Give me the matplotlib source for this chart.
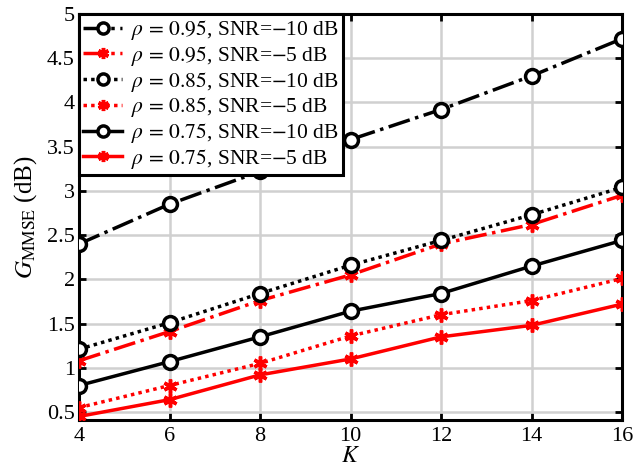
import matplotlib
matplotlib.use('Agg')
import matplotlib.pyplot as plt

plt.rcParams['font.family'] = ['Liberation Serif', 'DejaVu Serif']
plt.rcParams['mathtext.fontset'] = 'stix'

K = [4, 6, 8, 10, 12, 14, 16]

# gain values (dB)
g_095_m10 = [2.40, 2.85, 3.22, 3.58, 3.92, 4.30, 4.72]
g_095_m5 = [1.08, 1.41, 1.76, 2.05, 2.40, 2.62, 2.95]
g_085_m10 = [1.21, 1.51, 1.84, 2.16, 2.44, 2.73, 3.04]
g_085_m5 = [0.55, 0.80, 1.05, 1.36, 1.60, 1.76, 2.01]
g_075_m10 = [0.80, 1.07, 1.35, 1.64, 1.84, 2.15, 2.44]
g_075_m5 = [0.45, 0.64, 0.92, 1.10, 1.35, 1.48, 1.72]

labels = [
    r'$\rho\,=\,0.95$, SNR=$-$10 dB',
    r'$\rho\,=\,0.95$, SNR=$-$5 dB',
    r'$\rho\,=\,0.85$, SNR=$-$10 dB',
    r'$\rho\,=\,0.85$, SNR=$-$5 dB',
    r'$\rho\,=\,0.75$, SNR=$-$10 dB',
    r'$\rho\,=\,0.75$, SNR=$-$5 dB',
]

series = [g_095_m10, g_095_m5, g_085_m10, g_085_m5, g_075_m10, g_075_m5]
colors = ['k', 'r', 'k', 'r', 'k', 'r']
dotted = (0, (1.0, 1.2))
styles = ['-.', '-.', dotted, dotted, '-', '-']
asterisk = (6, 2, 0)
markers = ['o', asterisk, 'o', asterisk, 'o', asterisk]

fig = plt.figure(figsize=(6.33, 4.7), dpi=100)
ax = fig.add_axes([79 / 633, 50 / 470, 543 / 633, 406 / 470])

for y, c, ls, m, lab in zip(series, colors, styles, markers, labels):
    if m == 'o':
        ax.plot(K, y, color=c, ls=ls, lw=2.5, marker='o', ms=10,
                mfc='white', mec=c, mew=2.5, label=lab, zorder=3)
    else:
        ax.plot(K, y, color=c, ls=ls, lw=2.5, marker=m, ms=10,
                mec=c, mew=2.5, label=lab, zorder=3)

ax.set_xlim(4, 16)
ax.set_ylim(0.41, 5)
ax.set_xticks(K)
ax.set_yticks([0.5, 1, 1.5, 2, 2.5, 3, 3.5, 4, 4.5, 5])
ax.set_yticklabels(['0.5', '1', '1.5', '2', '2.5', '3', '3.5', '4', '4.5', '5'])
ax.grid(True, color='#d0d0d0', lw=1.8)
ax.set_axisbelow(True)
ax.tick_params(direction='in', labelsize=16, width=2, length=5, top=True, right=True)
ax.tick_params(axis='x', pad=5)
ax.tick_params(axis='y', pad=3)
for s in ax.spines.values():
    s.set_linewidth(2.2)

ax.set_xlabel(r'$K$', fontsize=17, labelpad=0)
ax.set_ylabel(r'$G_{\mathrm{MMSE}}$ (dB)', fontsize=18, labelpad=6)

leg = ax.legend(loc='upper left', fontsize=15.5, handlelength=1.8, handletextpad=0.4,
                borderpad=0.2, labelspacing=0.08, borderaxespad=0, fancybox=False,
                framealpha=1, edgecolor='k', markerscale=0.8)
leg.get_frame().set_linewidth(2.2)
leg.set_zorder(5)

fig.savefig('out.png', dpi=100)
